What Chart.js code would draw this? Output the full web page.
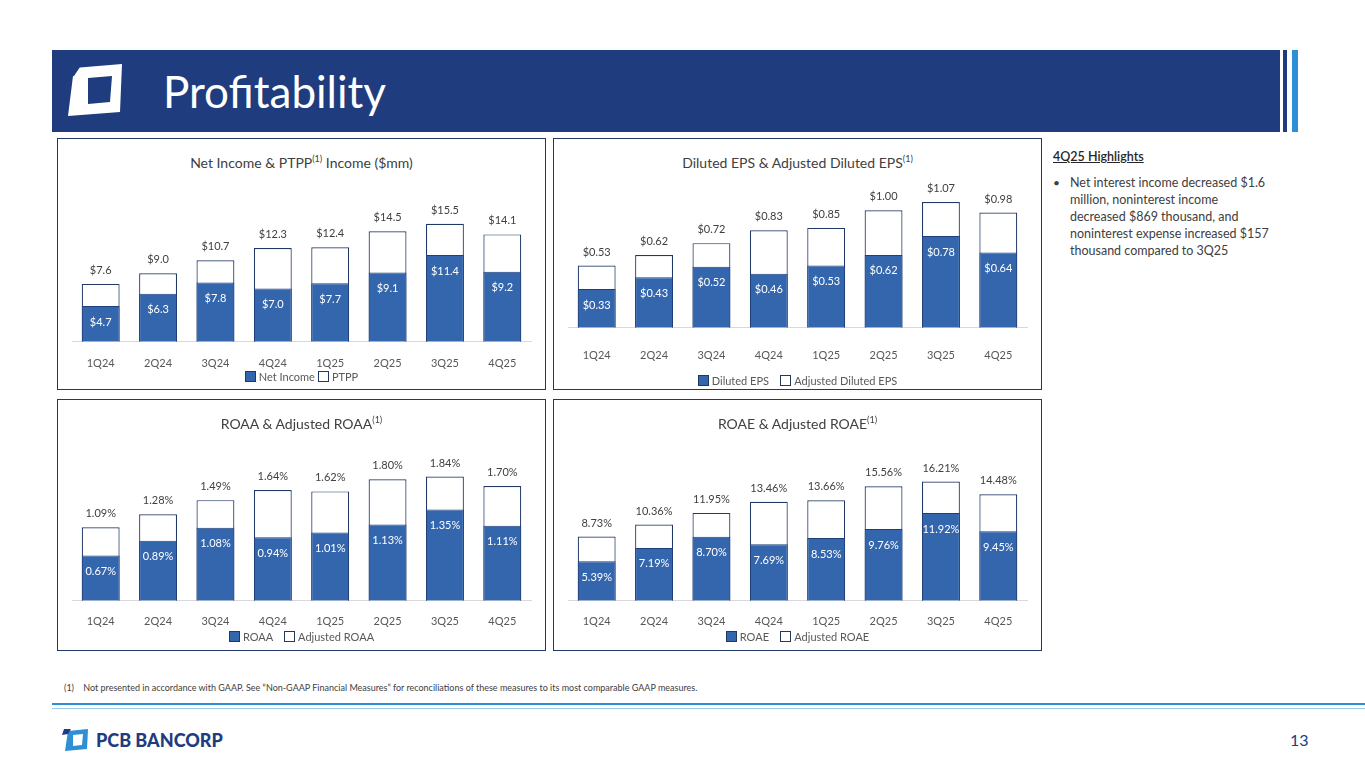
<!DOCTYPE html>
<html><head><meta charset="utf-8">
<script src="https://cdn.jsdelivr.net/npm/chart.js@4"></script>
<style>
body{margin:0;width:1365px;height:768px;background:#fff;font-family:Lato,"Open Sans",sans-serif;position:relative;overflow:hidden}
.abs{position:absolute}
.panel{position:absolute;width:489px;height:252px;border:1.5px solid #1f3864;box-sizing:border-box}
.ttl{position:absolute;top:14px;left:0;width:100%;text-align:center;font-size:14px;color:#404040}
.ttl sup{font-size:9px}
.cv{position:absolute;left:2px;top:36px}
.leg{position:absolute;left:0;width:100%;text-align:center;font-size:11px;color:#595959;white-space:nowrap}
.leg span{display:inline-block;width:9px;height:9px;border:1px solid #1f3864;vertical-align:-1px;margin-right:3px}
</style></head><body>
<div class="abs" style="left:52px;top:50px;width:1228px;height:82px;background:#1f3c7e"></div>
<div class="abs" style="left:1283px;top:50px;width:4px;height:82px;background:#1f3c7e"></div>
<div class="abs" style="left:1292px;top:50px;width:6px;height:82px;background:#2e8fd6"></div>
<svg class="abs" style="left:60px;top:62px" width="70" height="60"><polygon points="14,6 62,2 60,50 8,54" fill="#fff"/><polygon points="28,16 52,14 50,40 28,42" fill="#1f3c7e"/><polygon points="4,2 22,2 14,14 0,16" fill="#1f3c7e"/></svg>
<div class="abs" style="left:163px;top:66px;font-size:44px;color:#fff;line-height:50px">Profitability</div>

<div class="panel" style="left:57px;top:138px"><div class="ttl">Net Income &amp; PTPP<sup>(1)</sup> Income ($mm)</div><canvas id="c1" class="cv" width="483" height="214"></canvas>
<div class="leg" style="top:231px"><span style="background:#3466ae"></span>Net Income<span style="background:#fff;margin-left:3px"></span>PTPP</div></div>
<div class="panel" style="left:553px;top:138px"><div class="ttl">Diluted EPS &amp; Adjusted Diluted EPS<sup>(1)</sup></div><canvas id="c2" class="cv" width="483" height="214"></canvas>
<div class="leg" style="top:235px"><span style="background:#3466ae"></span>Diluted EPS&nbsp;&nbsp;&nbsp;&nbsp;<span style="background:#fff"></span>Adjusted Diluted EPS</div></div>
<div class="panel" style="left:57px;top:399px"><div class="ttl">ROAA &amp; Adjusted ROAA<sup>(1)</sup></div><canvas id="c3" class="cv" width="483" height="214"></canvas>
<div class="leg" style="top:230px"><span style="background:#3466ae"></span>ROAA&nbsp;&nbsp;&nbsp;&nbsp;<span style="background:#fff"></span>Adjusted ROAA</div></div>
<div class="panel" style="left:553px;top:399px"><div class="ttl">ROAE &amp; Adjusted ROAE<sup>(1)</sup></div><canvas id="c4" class="cv" width="483" height="214"></canvas>
<div class="leg" style="top:230px"><span style="background:#3466ae"></span>ROAE&nbsp;&nbsp;&nbsp;&nbsp;<span style="background:#fff"></span>Adjusted ROAE</div></div>

<div class="abs" style="left:1053px;top:149px;font-size:12.5px;font-weight:600;color:#262626;text-decoration:underline">4Q25 Highlights</div>
<div class="abs" style="left:1053px;top:174px;font-size:12px;color:#404040;line-height:17px">•</div>
<div class="abs" style="left:1070px;top:174px;font-size:12.5px;color:#404040;line-height:17px;white-space:nowrap">Net interest income decreased $1.6<br>million, noninterest income<br>decreased $869 thousand, and<br>noninterest expense increased $157<br>thousand compared to 3Q25</div>

<div class="abs" style="left:64px;top:682px;font-size:9px;color:#404040">(1)&nbsp;&nbsp;&nbsp; Not presented in accordance with GAAP. See “Non-GAAP Financial Measures” for reconciliations of these measures to its most comparable GAAP measures.</div>
<div class="abs" style="left:52px;top:703px;width:1313px;height:2px;background:#2e8fd6"></div>
<div class="abs" style="left:52px;top:708px;width:1313px;height:1px;background:#9ec9ea"></div>
<svg class="abs" style="left:62px;top:728px" width="30" height="24"><polygon points="6,3 26,1 25,21 3,23" fill="#2e8fd6"/><polygon points="11,7 21,6 20,17 11,18" fill="#fff"/><polygon points="2,1 9,1 6,6 0,7" fill="#1f3c7e"/></svg>
<div class="abs" style="left:96px;top:729px;font-size:18px;font-weight:900;color:#1f3c7e">PCB BANCORP</div>
<div class="abs" style="left:1290px;top:730px;font-size:16px;color:#1f3c7e">13</div>

<script>
const quarters=["1Q24","2Q24","3Q24","4Q24","1Q25","2Q25","3Q25","4Q25"];
const netIncome=[4.7,6.3,7.8,7.0,7.7,9.1,11.4,9.2];
const ptpp=[7.6,9.0,10.7,12.3,12.4,14.5,15.5,14.1];
const dilutedEps=[0.33,0.43,0.52,0.46,0.53,0.62,0.78,0.64];
const adjDilutedEps=[0.53,0.62,0.72,0.83,0.85,1.00,1.07,0.98];
const roaa=[0.67,0.89,1.08,0.94,1.01,1.13,1.35,1.11];
const adjRoaa=[1.09,1.28,1.49,1.64,1.62,1.80,1.84,1.70];
const roae=[5.39,7.19,8.70,7.69,8.53,9.76,11.92,9.45];
const adjRoae=[8.73,10.36,11.95,13.46,13.66,15.56,16.21,14.48];

const fmts={};
const labelPlugin={id:'lbl',afterDatasetsDraw(chart){
  const ctx=chart.ctx;const fmt=fmts[chart.canvas.id];
  chart.data.datasets.forEach((ds,di)=>{
    chart.getDatasetMeta(di).data.forEach((b,i)=>{
      ctx.save();ctx.font='11px Lato, "Open Sans", sans-serif';ctx.textAlign='center';
      if(di===0){ctx.fillStyle='#fff';ctx.textBaseline='middle';ctx.fillText(fmt(ds.data[i]),b.x,b.y+16);}
      else{ctx.fillStyle='#404040';ctx.textBaseline='bottom';ctx.fillText(fmt(ds.data[i]),b.x,b.y-8);}
      ctx.restore();
    });
  });
}};
function make(id,front,back,max,fmt,tickPad,bottomPad){
  fmts[id]=fmt;
  new Chart(document.getElementById(id),{type:'bar',
    data:{labels:quarters,datasets:[
      {data:front,backgroundColor:'#3466ae',borderColor:'#1f3f7a',borderWidth:1,order:0,barPercentage:0.66,categoryPercentage:1},
      {data:back,backgroundColor:'#ffffff',borderColor:'#1f3864',borderWidth:1.2,order:1,barPercentage:0.66,categoryPercentage:1}]},
    options:{responsive:false,animation:false,layout:{padding:{left:12,right:12,top:0,bottom:bottomPad}},
      scales:{x:{stacked:true,grid:{display:false},border:{color:'#d9d9d9'},ticks:{color:'#595959',font:{size:11,family:'Lato'},padding:tickPad}},
        y:{stacked:false,display:false,min:0,max:max}},
      plugins:{tooltip:{enabled:false},legend:{display:false}}},
    plugins:[labelPlugin]});
}
make('c1',netIncome,ptpp,21.9,v=>'$'+v.toFixed(1),7,12);
make('c2',dilutedEps,adjDilutedEps,1.30,v=>'$'+v.toFixed(2),13,14);
make('c3',roaa,adjRoaa,2.44,v=>v.toFixed(2)+'%',6,16);
make('c4',roae,adjRoae,22.4,v=>v.toFixed(2)+'%',6,16);
</script>
</body></html>
